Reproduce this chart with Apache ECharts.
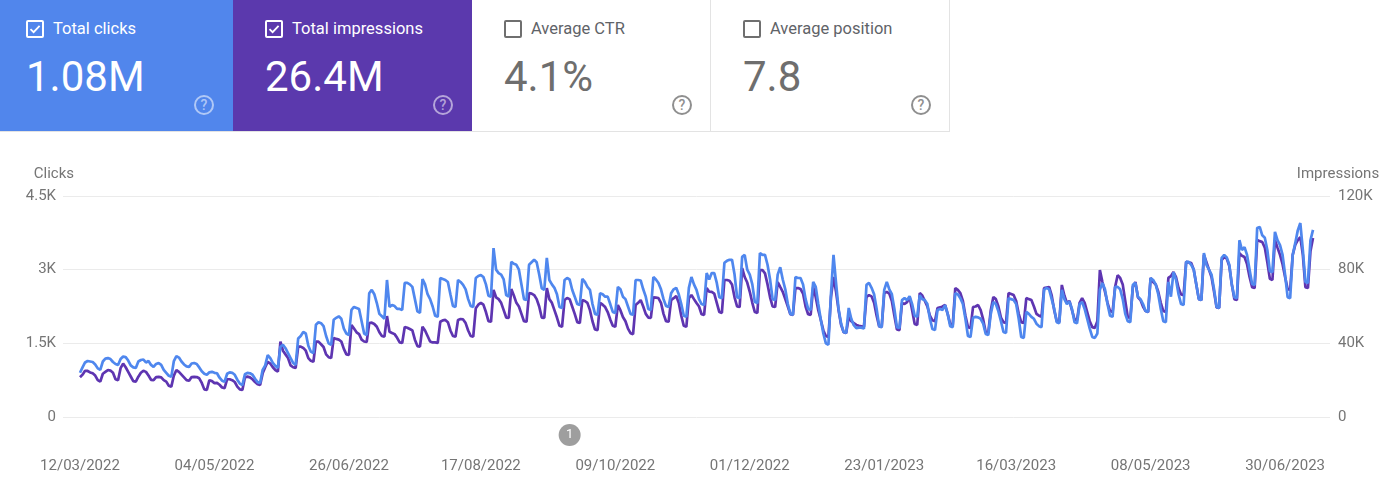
<!DOCTYPE html>
<html>
<head>
<meta charset="utf-8">
<script src="https://cdn.jsdelivr.net/npm/echarts@6/dist/echarts.min.js"></script>
<style>
html,body{margin:0;padding:0;background:#fff;width:1400px;height:499px;overflow:hidden;font-family:Roboto,"Noto Sans",sans-serif}
#chart{position:absolute;left:0;top:0;width:1400px;height:499px}
.card{position:absolute;top:0;width:239px;height:131px;border-bottom:1px solid #e3e3e3;z-index:2;overflow:hidden}
.cb{position:absolute;left:32px;top:20px;width:14px;height:14px;border:2px solid;border-radius:2px}
.cb svg{position:absolute;left:0;top:0}
.lbl{position:absolute;left:59px;top:19px;font-size:16.5px;line-height:20px;white-space:nowrap}
.num{position:absolute;left:32px;top:52px;font-size:42px;line-height:50px;white-space:nowrap}
.help{position:absolute;left:200px;top:95px;width:16px;height:16px;border:2px solid;border-radius:50%;font-size:14px;line-height:16px;text-align:center;font-weight:500}
.on{color:#fff}
.on .cb{border-color:#fff}
.on .help{color:rgba(255,255,255,0.55);border-color:rgba(255,255,255,0.55)}
.off{background:#fff;border-right:1px solid #e3e3e3}
.off .cb{border-color:#6f6f6f}
.off .lbl{color:#5f6368}
.off .num{color:#6e6e6e}
.off .help{color:#8f8f8f;border-color:#8f8f8f}
</style>
</head>
<body>
<div class="card on" style="left:-6px;background:#5186ec">
  <div class="cb"><svg width="14" height="14" viewBox="0 0 14 14"><path d="M2.5 7.2 L5.6 10.2 L11.6 3.8" fill="none" stroke="#fff" stroke-width="1.8"/></svg></div>
  <div class="lbl">Total clicks</div><div class="num">1.08M</div><div class="help">?</div>
</div>
<div class="card on" style="left:233px;background:#5b39ad">
  <div class="cb"><svg width="14" height="14" viewBox="0 0 14 14"><path d="M2.5 7.2 L5.6 10.2 L11.6 3.8" fill="none" stroke="#fff" stroke-width="1.8"/></svg></div>
  <div class="lbl">Total impressions</div><div class="num">26.4M</div><div class="help">?</div>
</div>
<div class="card off" style="left:472px;width:238px">
  <div class="cb"></div>
  <div class="lbl">Average CTR</div><div class="num">4.1%</div><div class="help">?</div>
</div>
<div class="card off" style="left:711px;width:238px">
  <div class="cb"></div>
  <div class="lbl">Average position</div><div class="num">7.8</div><div class="help">?</div>
</div>
<div id="chart"></div>
<script>
// ---- data ----
const startDate = [2022, 2, 12]; // 12/03/2022 (UTC y, m-1, d)
const tickLabels = ['12/03/2022','04/05/2022','26/06/2022','17/08/2022','09/10/2022','01/12/2022','23/01/2023','16/03/2023','08/05/2023','30/06/2023'];
const annotations = [{ date: '21/09/2022', text: '1' }];
const clickTicks = [0, 1500, 3000, 4500];
const impressionTicks = [0, 40000, 80000, 120000];

const clicks = [
900,1010,1110,1140,1130,1120,1070,
990,960,1130,1190,1200,1180,1120,
1080,1060,1180,1230,1220,1150,1050,
1010,1000,1130,1160,1170,1110,1140,
1060,1020,1080,1100,1060,960,900,
840,820,1140,1240,1210,1130,1070,
1030,1020,1090,1100,1080,1010,930,
880,860,910,920,900,890,800,
740,720,880,910,900,860,760,
680,650,870,900,890,860,780,
710,690,960,1050,1260,1200,1100,
1040,1000,1430,1470,1400,1300,1200,
1100,1060,1600,1650,1730,1700,1450,
1330,1300,1880,1930,1910,1850,1650,
1500,1470,1980,2020,2050,2000,1800,
1700,1670,2180,2240,2220,2200,1950,
1700,1670,2520,2590,2500,2320,2100,
2050,2000,2790,2240,2280,2260,2200,
2200,2180,2730,2730,2700,2650,2400,
2150,2120,2810,2700,2500,2400,2250,
2060,2040,2830,2810,2790,2750,2500,
2260,2240,2790,2750,2690,2600,2400,
2260,2240,2830,2870,2890,2850,2700,
2470,2450,3440,3000,2930,2900,2800,
2480,2450,3160,3120,3100,3000,2700,
2400,2380,3100,3150,3200,3150,2900,
2620,2590,3240,2790,2700,2630,2500,
2240,2220,2790,2830,2800,2590,2450,
2300,2280,2810,2750,2650,2590,2300,
2100,2080,2520,2500,2450,2450,2300,
2140,2120,2650,2600,2450,2400,2250,
2100,2080,2790,2790,2780,2600,2450,
2200,2180,2850,2800,2730,2600,2400,
2260,2240,2520,2600,2630,2500,2300,
2060,2040,2630,2850,2700,2590,2400,
2300,2280,2930,2800,2930,2930,2730,
2440,2420,3140,3180,3200,3200,2900,
2440,2420,3260,3300,3000,2900,2700,
2340,2320,3340,3300,3300,3100,2800,
2400,2380,2900,3050,2800,2600,2300,
2100,2080,2850,2830,2830,2700,2400,
2200,2180,2750,2650,2300,1980,1700,
1500,1470,2500,3300,2730,2200,1900,
1730,1710,2220,2000,1870,1810,1820,
1820,1800,2690,2730,2630,2500,2200,
1850,1830,2590,2750,2600,2500,2200,
1830,1810,2380,2420,2380,2460,2300,
2060,2040,2480,2400,2380,2300,2000,
1790,1770,2180,2200,2180,2280,2100,
1850,1830,2520,2500,2420,2300,2000,
1650,1630,2020,2040,2030,2000,1900,
1690,1670,2100,2340,2300,2150,1950,
1730,1710,2420,2400,2380,2300,2000,
1630,1610,2140,2100,2040,2000,1900,
1850,1830,2590,2630,2600,2400,2200,
1930,1910,2590,2400,2300,2350,2200,
1930,1910,2300,2340,2200,2000,1800,
1630,1610,1700,2590,2730,2600,2300,
2060,2040,2650,2650,2600,2400,2100,
1950,1930,2690,2730,2450,2400,2300,
2160,2140,2830,2790,2700,2500,2200,
1950,1930,2750,2450,2950,2800,2500,
2300,2280,3160,3160,3100,3000,2700,
2400,2380,3340,3100,3000,2900,2600,
2240,2220,3240,3300,3250,3100,2700,
2440,2420,3600,3400,3460,3300,3000,
2710,2690,3850,3870,3700,3650,3400,
2970,2950,3770,3600,3500,3300,2900,
2440,2420,3300,3540,3800,3950,3400,
2750,2730,3600,3810
];

const impressions = [
21600,23000,25100,25000,24200,23700,22500,
20000,19200,23500,24500,25500,25200,24000,
20500,20000,26500,29000,27000,24500,22000,
19500,19200,21900,24000,25100,24500,22500,
20200,20000,21700,21800,21500,20000,19200,
17000,16500,22500,25500,24500,23000,21500,
20000,19700,21700,21800,21700,21000,18500,
15000,14700,20000,19500,18400,18500,17500,
16000,15700,20500,20500,20000,19000,16500,
15000,14700,21500,21900,21500,20500,19000,
17800,17400,23700,27000,30000,29000,27000,
25500,24600,40900,36000,34000,32000,28000,
27000,26600,38200,38200,37500,36000,32000,
30500,30000,40900,40900,39500,38000,34000,
32500,32000,42900,42400,42000,41000,37000,
34000,33700,50000,48000,46000,45000,42000,
41000,40700,51000,51200,50500,49000,46000,
44000,43600,54800,46300,45600,45000,43000,
40500,40200,48900,48500,47800,47000,42000,
38500,38200,49000,47000,44000,41000,40500,
40500,40200,51700,52500,52700,51500,47000,
44000,43600,52700,53200,53000,51000,47000,
44000,43600,59000,61000,62000,61000,57000,
52000,51700,69000,65000,64000,62000,58000,
54000,53800,69500,66000,62000,60000,56000,
52000,51700,67300,67000,66200,64000,60000,
54000,53800,70000,64000,62000,58000,54000,
49500,49000,63500,64600,64000,60000,56000,
51500,51000,63500,63000,62000,58000,52000,
47500,47200,62000,61000,59700,57000,53000,
49500,49000,60800,58000,54300,52000,48000,
45500,45000,60800,62000,63500,60000,56000,
54000,53800,65000,64800,64600,62000,56000,
52000,51700,63500,64500,65700,62000,55000,
49500,49000,64600,66200,64000,61900,60000,
55800,55400,70000,68000,67900,67000,62000,
57000,56500,74400,74400,74000,72000,65000,
60000,59700,80900,76000,73000,68000,62000,
57000,56500,79800,79800,78000,72000,65000,
60000,59700,73300,70600,68000,64000,60000,
55800,55400,70000,70000,69500,67000,60000,
55800,55400,70600,65000,58000,52700,47000,
44000,43400,65000,76000,68000,58000,50000,
46000,45600,54300,52000,51000,50000,49500,
49200,48900,65200,66200,65500,62000,55000,
49200,48900,67300,67900,67000,63000,55000,
47500,47200,61900,61400,62400,65200,58000,
50500,50000,67300,66000,63000,60000,55000,
52500,52000,59200,59500,60000,60800,56000,
50500,50000,70000,69000,67300,63000,55000,
48800,48300,59700,60000,60800,58000,53000,
46000,45600,58000,65200,64000,60000,54000,
51500,51000,67300,66800,66200,63000,56000,
51500,51000,64600,64000,63500,60000,56000,
55000,54500,70000,70300,70600,66000,58000,
52000,51600,71700,66000,62000,63000,58000,
53000,52700,62000,64600,62000,57000,52000,
48800,48300,52000,79800,73300,68000,62000,
57500,57000,70600,77000,75500,72000,63000,
54200,53800,70600,73300,65000,63500,60000,
57500,57000,75500,73300,72000,68000,62000,
57500,57000,75500,76500,78700,76000,70000,
66500,66200,84200,84000,83600,80000,72000,
64000,63500,88000,84000,80000,76000,68000,
59500,59200,85200,86900,86000,82000,72000,
64000,63500,89000,87500,86900,83000,76000,
70500,70000,96100,95500,95000,92000,84000,
75000,74400,96100,92000,88000,83000,76000,
69500,69000,88000,93400,96000,97700,88000,
70500,70000,90000,97200
];

// ---- build ----
function fmt(d) {
  const dd = String(d.getUTCDate()).padStart(2, '0');
  const mm = String(d.getUTCMonth() + 1).padStart(2, '0');
  return dd + '/' + mm + '/' + d.getUTCFullYear();
}
const dates = clicks.map((_, i) => fmt(new Date(Date.UTC(startDate[0], startDate[1], startDate[2] + i))));
const tickIdx = tickLabels.map(l => dates.indexOf(l));
const clickData = clicks.map((v, i) => [i, v]);
const imprData = impressions.map((v, i) => [i, v]);
const kfmt = v => v === 0 ? '0' : (v / 1000) + 'K';

const chart = echarts.init(document.getElementById('chart'), null, { renderer: 'canvas' });
const labelStyle = { color: '#757575', fontSize: 15, fontFamily: 'Roboto' };
chart.setOption({
  animation: false,
  grid: { left: 63, right: 70, top: 196, bottom: 82 },
  xAxis: {
    type: 'value',
    min: -6.7,
    max: dates.length - 1 + 6.7,
    axisLine: { show: false },
    axisTick: { show: false },
    splitLine: { show: false },
    axisLabel: Object.assign({}, labelStyle, {
      customValues: tickIdx,
      margin: 42,
      formatter: v => dates[Math.round(v)] || ''
    })
  },
  yAxis: [
    {
      type: 'value', min: clickTicks[0], max: clickTicks[clickTicks.length - 1], interval: clickTicks[1] - clickTicks[0],
      name: 'Clicks', nameLocation: 'end', nameGap: 13,
      nameTextStyle: Object.assign({}, labelStyle, { align: 'right', padding: [0, 6, 0, 0], lineHeight: 18 }),
      axisLine: { show: false }, axisTick: { show: false },
      axisLabel: Object.assign({}, labelStyle, { margin: 7, formatter: kfmt }),
      splitLine: { lineStyle: { color: '#ebebeb', width: 1 } }
    },
    {
      type: 'value', min: impressionTicks[0], max: impressionTicks[impressionTicks.length - 1], interval: impressionTicks[1] - impressionTicks[0],
      position: 'right',
      name: 'Impressions', nameLocation: 'end', nameGap: 13,
      nameTextStyle: Object.assign({}, labelStyle, { align: 'center', padding: [0, 0, 0, 16], lineHeight: 18 }),
      axisLine: { show: false }, axisTick: { show: false },
      axisLabel: Object.assign({}, labelStyle, { margin: 8, formatter: kfmt }),
      splitLine: { show: false }
    }
  ],
  series: [
    {
      name: 'Impressions', type: 'line', yAxisIndex: 1, data: imprData,
      showSymbol: false, symbol: 'none',
      lineStyle: { color: '#5e35b1', width: 2.7 }, z: 2
    },
    {
      name: 'Clicks', type: 'line', yAxisIndex: 0, data: clickData,
      showSymbol: false, symbol: 'none',
      lineStyle: { color: '#4f87ee', width: 2.7 }, z: 3
    }
  ]
});

// annotation markers below the axis
const baseY = chart.convertToPixel({ yAxisIndex: 0 }, 0);
const graphics = annotations.map(a => {
  const x = chart.convertToPixel({ xAxisIndex: 0 }, dates.indexOf(a.date));
  return {
    type: 'group', x: x, y: baseY + 18,
    children: [
      { type: 'circle', shape: { cx: 0, cy: 0, r: 11 }, style: { fill: '#9e9e9e' } },
      { type: 'text', style: { text: a.text, x: 0, y: 0, fill: '#fff', fontSize: 13, fontFamily: 'Roboto', align: 'center', verticalAlign: 'middle' } }
    ]
  };
});
chart.setOption({ graphic: graphics });
</script>
</body>
</html>
